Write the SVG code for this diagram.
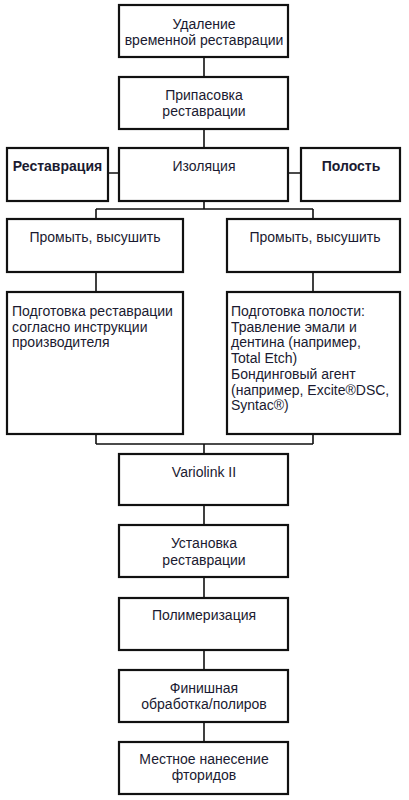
<svg xmlns="http://www.w3.org/2000/svg" width="409" height="800" viewBox="0 0 409 800">
<style>
.box{fill:#fff;stroke:#111;stroke-width:2.2}
.con{fill:none;stroke:#111;stroke-width:1.6}
text{font-family:"Liberation Sans",Arial,sans-serif;font-size:14px;fill:#1a1a30}
.c{text-anchor:middle}
.b{font-weight:bold}
</style>
<rect width="409" height="800" fill="#fff"/>
<g id="connectors">
<path class="con" d="M204 57V77M204 129V148M108 173H119M288 173H301M204 201V209M96 209H313M96 209V219M313 209V219M96 272V292M313 272V292M96 434V444M313 434V444M96 444H313M204 444V454M204 505V525M204 577V598M204 650V670M204 722V742"/>
</g>
<g id="n1"><rect class="box" x="119" y="5" width="169" height="52"/><text class="c" x="204" y="28.5">Удаление</text><text class="c" x="204" y="45">временной реставрации</text></g>
<g id="n2"><rect class="box" x="119" y="77" width="169" height="52"/><text class="c" x="204" y="100">Припасовка</text><text class="c" x="204" y="116">реставрации</text></g>
<g id="n3"><rect class="box" x="119" y="148" width="169" height="53"/><text class="c" x="204" y="171">Изоляция</text></g>
<g id="n4"><rect class="box" x="7" y="148" width="101" height="53"/><text class="c b" x="57.5" y="171">Реставрация</text></g>
<g id="n5"><rect class="box" x="301" y="148" width="99" height="53"/><text class="c b" x="351" y="171">Полость</text></g>
<g id="n6"><rect class="box" x="7" y="219" width="176" height="53"/><text class="c" x="95" y="241.5">Промыть, высушить</text></g>
<g id="n7"><rect class="box" x="227" y="219" width="173" height="53"/><text class="c" x="315" y="241.5">Промыть, высушить</text></g>
<g id="n8"><rect class="box" x="7" y="292" width="176" height="142"/><text x="12" y="316">Подготовка реставрации</text><text x="12" y="331.5">согласно инструкции</text><text x="12" y="347">производителя</text></g>
<g id="n9"><rect class="box" x="227" y="292" width="173" height="142"/><text x="231" y="316">Подготовка полости:</text><text x="231" y="331.7">Травление эмали и</text><text x="231" y="347.4">дентина (например,</text><text x="231" y="363.1">Total Etch)</text><text x="231" y="378.8">Бондинговый агент</text><text x="231" y="394.5">(например, Excite®DSC,</text><text x="231" y="410.2">Syntac®)</text></g>
<g id="n10"><rect class="box" x="119" y="454" width="169" height="51"/><text class="c" x="204" y="477">Variolink II</text></g>
<g id="n11"><rect class="box" x="119" y="525" width="169" height="52"/><text class="c" x="204" y="548.3">Установка</text><text class="c" x="204" y="565">реставрации</text></g>
<g id="n12"><rect class="box" x="119" y="598" width="169" height="52"/><text class="c" x="204" y="620">Полимеризация</text></g>
<g id="n13"><rect class="box" x="119" y="670" width="169" height="52"/><text class="c" x="204" y="692.7">Финишная</text><text class="c" x="204" y="709.3">обработка/полиров</text></g>
<g id="n14"><rect class="box" x="119" y="742" width="169" height="52"/><text class="c" x="204" y="764">Местное нанесение</text><text class="c" x="204" y="780">фторидов</text></g>
</svg>
